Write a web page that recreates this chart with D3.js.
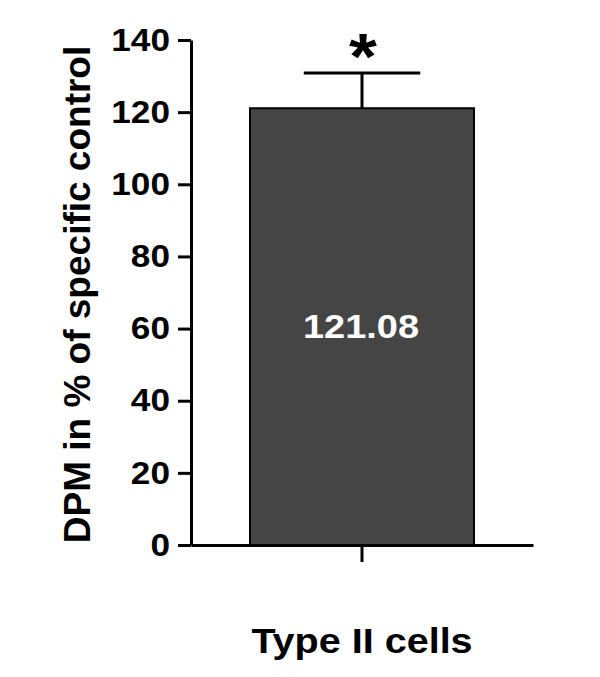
<!DOCTYPE html>
<html>
<head>
<meta charset="utf-8">
<script src="https://cdn.jsdelivr.net/npm/d3@7/dist/d3.min.js"></script>
<style>
  html, body { margin: 0; padding: 0; background: #fff; }
  svg { display: block; }
  text { font-family: "Liberation Sans", Arial, sans-serif; font-weight: bold; }
</style>
</head>
<body>
<svg id="chart" width="600" height="677"></svg>
<script>
const categories = ["Type II cells"];
const values = [121.08];
const errors = [9.8];
const valueLabels = ["121.08"];
const significance = ["*"];
const yTicks = [0, 20, 40, 60, 80, 100, 120, 140];
const yTitle = "DPM in % of specific control";

const svg = d3.select("#chart");
const x0 = 191, x1 = 533, yBottom = 545, yTop = 40;

const y = d3.scaleLinear().domain([0, 140]).range([yBottom, yTop]);
const x = d3.scaleBand().domain(categories).range([x0, x1]).paddingInner(0.2085).paddingOuter(0.2085);

// Bars
svg.selectAll("rect.bar").data(values).join("rect")
  .attr("class", "bar")
  .attr("x", (d, i) => x(categories[i]))
  .attr("y", d => y(d))
  .attr("width", x.bandwidth())
  .attr("height", d => y(0) - y(d))
  .attr("fill", "#454545")
  .attr("stroke", "#000")
  .attr("stroke-width", 2);

// Error bars
const eb = svg.selectAll("g.err").data(values).join("g").attr("class", "err");
eb.append("line")
  .attr("x1", (d, i) => x(categories[i]) + x.bandwidth() / 2)
  .attr("x2", (d, i) => x(categories[i]) + x.bandwidth() / 2)
  .attr("y1", d => y(d))
  .attr("y2", (d, i) => y(d + errors[i]))
  .attr("stroke", "#000").attr("stroke-width", 3);
eb.append("line")
  .attr("x1", (d, i) => x(categories[i]) + x.bandwidth() * 0.24)
  .attr("x2", (d, i) => x(categories[i]) + x.bandwidth() * 0.76)
  .attr("y1", (d, i) => y(d + errors[i]))
  .attr("y2", (d, i) => y(d + errors[i]))
  .attr("stroke", "#000").attr("stroke-width", 3);

// Significance star
svg.selectAll("text.sig").data(values).join("text")
  .attr("class", "sig")
  .attr("transform", (d, i) => `translate(${x(categories[i]) + x.bandwidth() / 2 + 1},${y(d + errors[i]) + 6}) scale(1.12,1)`)
  .attr("text-anchor", "middle")
  .attr("font-size", 64)
  .text((d, i) => significance[i]);

// Value labels
svg.selectAll("text.val").data(values).join("text")
  .attr("class", "val")
  .attr("transform", (d, i) => `translate(${x(categories[i]) + x.bandwidth() / 2 - 1},${y(60.5) + 0}) scale(1.15,1)`)
  .attr("text-anchor", "middle")
  .attr("dy", "0.35em")
  .attr("font-size", 33)
  .attr("fill", "#fff")
  .text((d, i) => valueLabels[i]);

// Y axis
const yAxis = svg.append("g")
  .attr("transform", `translate(${x0},0)`)
  .call(d3.axisLeft(y).tickValues(yTicks).tickSize(13).tickSizeOuter(0).tickPadding(8));
yAxis.select(".domain").attr("stroke", "#000").attr("stroke-width", 3);
yAxis.selectAll(".tick line").attr("stroke", "#000").attr("stroke-width", 3);
yAxis.selectAll(".tick text")
  .attr("font-size", 32)
  .attr("fill", "#000")
  .attr("font-family", "Liberation Sans, Arial, sans-serif")
  .attr("font-weight", "bold")
  .attr("transform", function () { const xx = +d3.select(this).attr("x"); return `translate(${xx},0) scale(1.1,1) translate(${-xx},0)`; });

// X axis
const xAxis = svg.append("g")
  .attr("transform", `translate(0,${yBottom})`)
  .call(d3.axisBottom(x).tickSize(17).tickSizeOuter(0).tickPadding(0));
xAxis.select(".domain").attr("stroke", "#000").attr("stroke-width", 3);
xAxis.selectAll(".tick line").attr("stroke", "#000").attr("stroke-width", 3);
xAxis.selectAll(".tick text").remove();
xAxis.selectAll(".tick").append("text")
  .attr("transform", "translate(0,108) scale(1.13,1)")
  .attr("text-anchor", "middle")
  .attr("font-size", 35)
  .attr("fill", "#000")
  .text(d => d);

// Y title
svg.append("text")
  .attr("transform", `translate(90,${(yTop + yBottom) / 2 + 2}) rotate(-90)`)
  .attr("text-anchor", "middle")
  .attr("font-size", 37)
  .attr("fill", "#000")
  .text(yTitle);
</script>
</body>
</html>
